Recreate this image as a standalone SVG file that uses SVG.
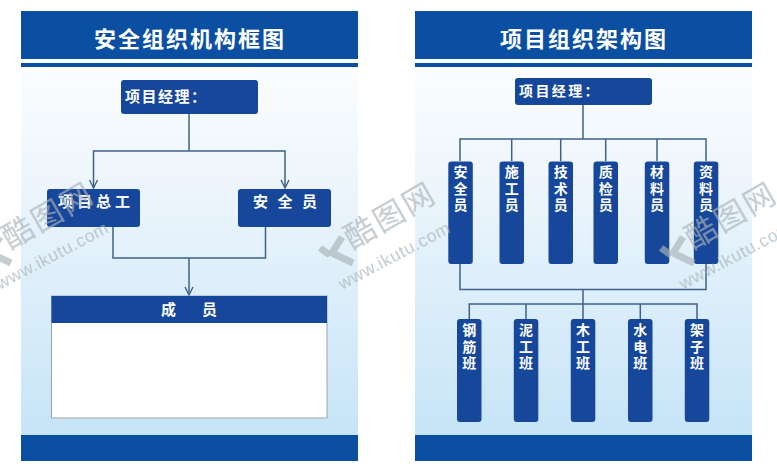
<svg xmlns="http://www.w3.org/2000/svg" width="777" height="472" viewBox="0 0 777 472">
<style>
text{font-family:"Noto Sans CJK SC","Liberation Sans",sans-serif;fill:#fff;font-weight:700}
.band{fill:#0b4fa3}
.node{fill:#16479a}
.line{fill:none;stroke:#3f6288;stroke-width:1.5}
.title{font-size:22px;letter-spacing:2px}
.label{font-size:15px}
.mgr{font-size:15px;letter-spacing:1.5px}
.v{font-size:14px;letter-spacing:2.4px;writing-mode:vertical-rl}
.wm text{fill:#aab3b8;font-weight:400}
</style>
<defs>
<linearGradient id="panel" x1="0" y1="0" x2="0" y2="1"><stop offset="0" stop-color="#fbfdff"/><stop offset=".3" stop-color="#eef6fc"/><stop offset="1" stop-color="#c6e4f7"/></linearGradient>
<marker id="arrow" markerUnits="userSpaceOnUse" markerWidth="12" markerHeight="10" refX="9" refY="5" orient="auto"><path d="M1 1L9 5L1 9" fill="none" stroke="#3f6288" stroke-width="1.4"/></marker>
<g id="mark" class="wm" opacity=".66">
<path d="M320 248L330 255M342 237L332 253L353 263" fill="none" stroke="#aab3b8" stroke-width="7"/>
<text transform="translate(352 250) rotate(-30)" font-size="31" letter-spacing="2.5">酷图网</text>
<text transform="translate(342 290) rotate(-28)" font-size="17.5" letter-spacing=".6" style="font-family:'Liberation Sans',sans-serif">www.ikutu.com</text>
</g>
</defs>
<rect width="777" height="472" fill="#fff"/>

<g id="panel-left">
<rect x="21" y="67" width="337" height="368" fill="url(#panel)"/>
<rect class="band" x="21" y="11" width="337" height="48"/>
<rect class="band" x="21" y="63" width="337" height="4"/>
<rect class="band" x="21" y="435" width="337" height="26"/>
<text class="title" x="94" y="47">安全组织机构框图</text>
</g>
<g id="panel-right">
<rect x="415" y="67" width="337" height="368" fill="url(#panel)"/>
<rect class="band" x="415" y="11" width="337" height="48"/>
<rect class="band" x="415" y="63" width="337" height="4"/>
<rect class="band" x="415" y="435" width="337" height="26"/>
<text class="title" x="500" y="47">项目组织架构图</text>
</g>

<g id="connectors">
<path class="line" d="M189 114V151"/>
<path class="line" d="M189 151H93.500V188" marker-end="url(#arrow)"/>
<path class="line" d="M189 151H285V188" marker-end="url(#arrow)"/>
<path class="line" d="M113 227V258H265.500V227"/>
<path class="line" d="M189 258V295" marker-end="url(#arrow)"/>
<path class="line" d="M583 105V139M460 161V139H706V161M511.700 139V161M560.700 139V161M605.700 139V161M657 139V161"/>
<path class="line" d="M460 264V289.500H706V264M583 289.500V319M469.300 319V304H697V319M526 304V319M640.300 304V319"/>
</g>

<g id="n-manager-left"><rect class="node" x="121" y="80" width="137" height="34" rx="3"/><text class="mgr" x="125" y="102">项目经理：</text></g>
<g id="n-chief"><rect class="node" x="47" y="189" width="93" height="38" rx="3"/><text class="label" x="58" y="207" letter-spacing="4">项目总工</text></g>
<g id="n-safety"><rect class="node" x="238" y="189" width="93" height="38" rx="3"/><text class="label" x="253" y="207" letter-spacing="9.500">安全员</text></g>
<g id="n-members"><rect x="51.500" y="296" width="275.500" height="122" fill="#fff" stroke="#9aa5ad"/><rect class="node" x="51.500" y="296" width="275.500" height="27"/><text class="label" x="161" y="315" letter-spacing="26">成员</text></g>

<g id="n-manager-right"><rect class="node" x="515" y="78" width="137" height="27" rx="3"/><text class="mgr" x="519" y="96" style="font-size:14px;letter-spacing:2.4px">项目经理：</text></g>

<g id="n-r1"><rect class="node" x="448.300" y="161.500" width="24.500" height="102.500" rx="3"/><text class="v" x="460.500" y="165">安全员</text></g>
<g id="n-r2"><rect class="node" x="499.500" y="161.500" width="24.500" height="102.500" rx="3"/><text class="v" x="511.700" y="165">施工员</text></g>
<g id="n-r3"><rect class="node" x="548.500" y="161.500" width="24.500" height="102.500" rx="3"/><text class="v" x="560.700" y="165">技术员</text></g>
<g id="n-r4"><rect class="node" x="593.500" y="161.500" width="24.500" height="102.500" rx="3"/><text class="v" x="605.700" y="165">质检员</text></g>
<g id="n-r5"><rect class="node" x="644.800" y="161.500" width="24.500" height="102.500" rx="3"/><text class="v" x="657" y="165">材料员</text></g>
<g id="n-r6"><rect class="node" x="693.800" y="161.500" width="24.500" height="102.500" rx="3"/><text class="v" x="706" y="165">资料员</text></g>

<g id="n-t1"><rect class="node" x="457" y="319" width="24.500" height="103" rx="3"/><text class="v" x="469.300" y="323">钢筋班</text></g>
<g id="n-t2"><rect class="node" x="513.800" y="319" width="24.500" height="103" rx="3"/><text class="v" x="526" y="323">泥工班</text></g>
<g id="n-t3"><rect class="node" x="570.800" y="319" width="24.500" height="103" rx="3"/><text class="v" x="583" y="323">木工班</text></g>
<g id="n-t4"><rect class="node" x="628" y="319" width="24.500" height="103" rx="3"/><text class="v" x="640.300" y="323">水电班</text></g>
<g id="n-t5"><rect class="node" x="684.800" y="319" width="24.500" height="103" rx="3"/><text class="v" x="697" y="323">架子班</text></g>

<g id="watermarks">
<use href="#mark" x="-342"/>
<use href="#mark"/>
<use href="#mark" x="341"/>
</g>
</svg>
